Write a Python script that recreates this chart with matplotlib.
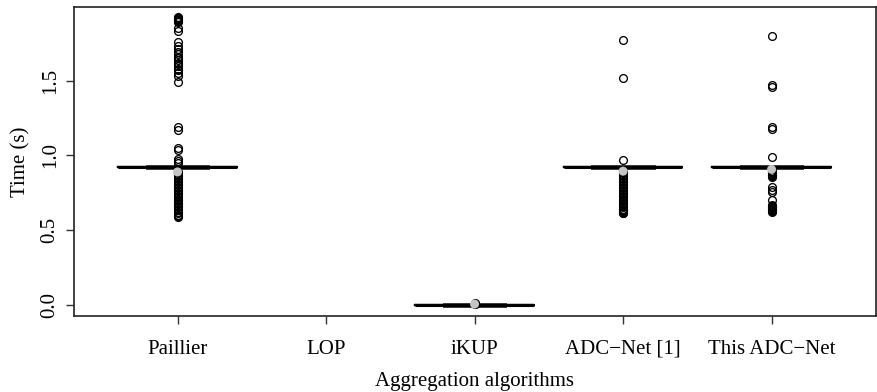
import matplotlib
matplotlib.use("Agg")
import matplotlib.pyplot as plt

plt.rcParams['font.family'] = ['Liberation Serif', 'DejaVu Serif']

categories = ["Paillier", "LOP", "iKUP", "ADC\u2212Net [1]", "This ADC\u2212Net"]
y_ticks = [0.0, 0.5, 1.0, 1.5]
y_ticklabels = ["0.0", "0.5", "1.0", "1.5"]

# per-box summary stats (LOP has no data)
box_positions = [1, 3, 4, 5]
box_medians = [0.92, 0.0, 0.92, 0.92]
box_q1 = [0.92, 0.0, 0.92, 0.92]
box_q3 = [0.92, 0.0, 0.92, 0.92]
box_means = [0.888, 0.003, 0.893, 0.905]

fliers_paillier = [1.925, 1.92, 1.915, 1.91, 1.905, 1.90, 1.895, 1.85, 1.83,
                   1.76, 1.73, 1.71, 1.69, 1.68, 1.66, 1.65, 1.64, 1.62, 1.61,
                   1.60, 1.58, 1.57, 1.55, 1.53, 1.49, 1.19, 1.17, 1.05, 1.035,
                   0.975, 0.96, 0.95,
                   0.89, 0.88, 0.87, 0.86, 0.85, 0.84, 0.83, 0.82, 0.81, 0.80,
                   0.79, 0.78, 0.77, 0.76, 0.75, 0.74, 0.73, 0.72, 0.71, 0.70,
                   0.69, 0.68, 0.67, 0.66, 0.65, 0.64, 0.63, 0.62, 0.61, 0.60,
                   0.59, 0.585]
fliers_ikup = [0.004, 0.006, 0.008]
fliers_adc1 = [1.77, 1.52, 0.97,
               0.89, 0.88, 0.87, 0.86, 0.85, 0.84, 0.83, 0.82, 0.81, 0.80,
               0.79, 0.78, 0.77, 0.76, 0.75, 0.74, 0.73, 0.72, 0.71, 0.70,
               0.69, 0.68, 0.67, 0.66, 0.65, 0.64, 0.635, 0.63, 0.625, 0.62,
               0.615, 0.61]
fliers_this = [1.795, 1.47, 1.455, 1.19, 1.175, 0.985,
               0.895, 0.89, 0.885, 0.88, 0.875, 0.87, 0.865, 0.86, 0.855,
               0.79, 0.77, 0.755, 0.70,
               0.665, 0.66, 0.655, 0.65, 0.645, 0.64, 0.635, 0.63, 0.625, 0.62]
all_fliers = [fliers_paillier, fliers_ikup, fliers_adc1, fliers_this]

stats = []
for med, q1, q3, mean, fl in zip(box_medians, box_q1, box_q3, box_means, all_fliers):
    stats.append(dict(med=med, q1=q1, q3=q3, whislo=q1, whishi=q3,
                      mean=mean, fliers=fl))

fig = plt.figure(figsize=(8.77, 3.92), dpi=100)
ax = fig.add_axes([0.0839, 0.194, 0.9144, 0.788])

# outer box line (width 0.8)
ax.bxp(stats, positions=box_positions, widths=0.8, showmeans=False,
       showfliers=False, showcaps=False,
       boxprops=dict(color='black', lw=1.6),
       whiskerprops=dict(color='black', lw=1),
       medianprops=dict(color='black', lw=2.2),
       manage_ticks=False)
# inner band (staples, width 0.4)
ax.bxp(stats, positions=box_positions, widths=0.8, capwidths=0.4,
       showmeans=False, showfliers=True, showcaps=True, showbox=False,
       capprops=dict(color='#3c3c3c', lw=3.4),
       whiskerprops=dict(color='black', lw=0),
       medianprops=dict(lw=0),
       flierprops=dict(marker='o', markerfacecolor='none',
                       markeredgecolor='black', markersize=5.6,
                       markeredgewidth=0.95),
       manage_ticks=False)
ax.scatter(box_positions, box_means, s=42, color='#c4c4c4',
           edgecolors='none', zorder=5)

ax.set_xlim(0.3, 5.7)
ax.set_ylim(-0.0765, 1.992)
ax.set_xticks(range(1, len(categories) + 1))
ax.set_xticklabels(categories, fontsize=15)
ax.set_yticks(y_ticks)
ax.set_yticklabels(y_ticklabels, fontsize=15, rotation=90, va='center')
ax.tick_params(axis='both', length=6, width=1, color='#333333')
ax.tick_params(axis='x', pad=11)
ax.tick_params(axis='y', pad=4)
for sp in ax.spines.values():
    sp.set_linewidth(1.2)
    sp.set_color('#222222')

ax.set_xlabel("Aggregation algorithms", fontsize=15, labelpad=10)
ax.set_ylabel("Time (s)", fontsize=15, labelpad=7)

fig.savefig("out.png", dpi=100)
